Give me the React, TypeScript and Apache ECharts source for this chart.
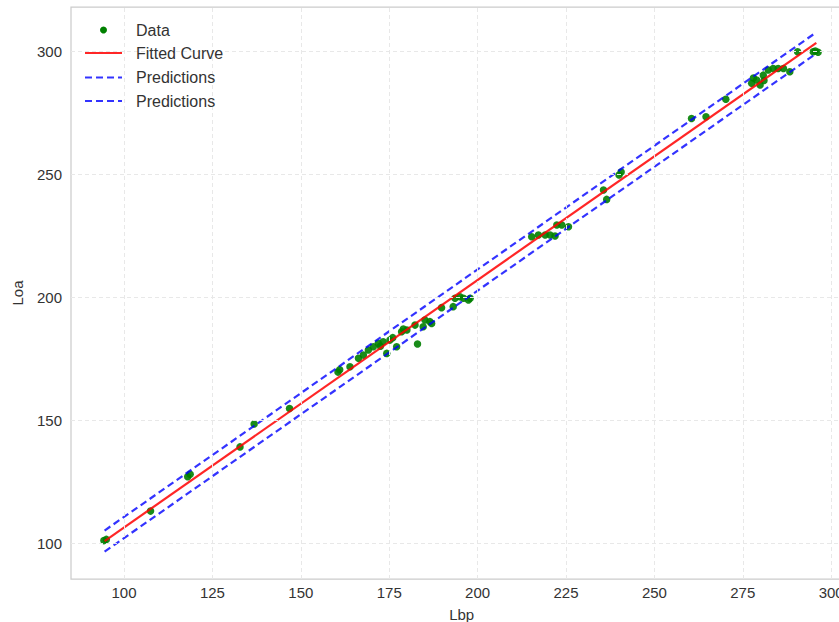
import React, { useEffect, useRef } from "react";
import * as echarts from "echarts";

const lbp = [94.3, 95.0, 107.5, 118.0, 118.7, 132.8, 136.8, 146.8, 160.5, 161.0, 163.9, 166.3, 167.7, 169.1, 170.5, 171.9, 172.5, 173.3, 174.3, 175.2, 176.0, 177.1, 178.5, 179.0, 180.0, 182.3, 183.0, 184.6, 185.1, 186.5, 187.0, 189.8, 193.1, 193.6, 195.0, 196.0, 197.4, 197.9, 215.3, 217.2, 219.1, 220.5, 221.9, 222.4, 223.8, 225.7, 235.6, 236.5, 240.0, 240.6, 260.5, 264.6, 270.2, 277.5, 278.0, 278.9, 279.9, 280.8, 281.0, 282.2, 283.6, 285.0, 286.5, 288.3, 290.5, 294.9, 295.5, 296.3];
const loa = [101.0, 101.5, 113.0, 127.0, 128.0, 139.1, 148.4, 154.7, 169.5, 170.5, 171.7, 175.1, 176.4, 178.5, 179.8, 181.2, 180.0, 181.8, 177.1, 182.5, 183.5, 179.8, 185.9, 187.0, 186.6, 188.6, 180.9, 187.9, 190.7, 190.0, 189.3, 195.7, 196.1, 199.5, 200.1, 199.5, 198.8, 199.5, 224.5, 225.2, 225.2, 225.2, 224.8, 229.3, 229.3, 228.6, 243.5, 239.7, 249.6, 250.8, 272.6, 273.3, 280.4, 286.9, 289.0, 288.2, 286.2, 290.2, 288.0, 292.3, 292.9, 292.9, 292.9, 291.6, 299.7, 299.7, 300.0, 299.5];

const fitLbp = [94.5, 295.8];
const fitLoa = [100.8, 303.3];
const upperLoa = [105.1, 307.6];
const lowerLoa = [96.5, 299.0];

const xTicks = [100, 125, 150, 175, 200, 225, 250, 275, 300];
const yTicks = [100, 150, 200, 250, 300];

const legendNames = ["Data", "Fitted Curve", "Predictions", "Predictions"];

const FONT = "'Liberation Sans', Arial, sans-serif";

export default function App() {
  const ref = useRef<HTMLDivElement>(null);
  useEffect(() => {
    if (!ref.current) return;
    const chart = echarts.init(ref.current, undefined, { renderer: "svg" });
    const pts = lbp.map((x, i) => [x, loa[i]]);
    const fit = fitLbp.map((x, i) => [x, fitLoa[i]]);
    const up = fitLbp.map((x, i) => [x, upperLoa[i]]);
    const lo = fitLbp.map((x, i) => [x, lowerLoa[i]]);
    const legendY = [30, 53, 77.5, 101];
    const labelStyle = { fontFamily: FONT, fontSize: 15, color: "#333333" };
    chart.setOption({
      animation: false,
      backgroundColor: "#ffffff",
      grid: {
        left: 71, top: 7, width: 781.4, height: 572,
        outerBoundsMode: "none",
        show: true, borderColor: "#cccccc", borderWidth: 1.25, containLabel: false,
      },
      xAxis: {
        type: "value",
        min: 85,
        max: 306,
        name: "Lbp",
        nameLocation: "middle",
        nameGap: 28,
        nameTextStyle: labelStyle,
        axisLine: { show: false },
        axisTick: { show: false },
        splitLine: { show: false },
        axisLabel: { ...labelStyle, margin: 6, customValues: xTicks, formatter: (v: number) => String(v) },
      },
      yAxis: {
        type: "value",
        min: 85.4,
        max: 317.9,
        name: "Loa",
        nameLocation: "middle",
        nameGap: 46,
        nameTextStyle: labelStyle,
        axisLine: { show: false },
        axisTick: { show: false },
        splitLine: { show: false },
        axisLabel: { ...labelStyle, margin: 9, customValues: yTicks, formatter: (v: number) => String(v) },
      },
      series: [
        {
          name: "gridlines",
          type: "scatter",
          data: [],
          silent: true,
          z: 1,
          markLine: {
            silent: true,
            symbol: ["none", "none"],
            label: { show: false },
            lineStyle: { color: "#e8e8e8", width: 1, type: [4, 3] },
            emphasis: { disabled: true },
            data: [
              ...xTicks.map((v) => ({ xAxis: v })),
              ...yTicks.map((v) => ({ yAxis: v })),
            ],
          },
        },
        { name: "Data", type: "scatter", data: pts, symbolSize: 7.5, itemStyle: { color: "#008000", opacity: 0.9 }, z: 2 },
        { name: "Fitted Curve", type: "line", data: fit, showSymbol: false, lineStyle: { color: "#ff0000", width: 2.2, opacity: 0.85 }, z: 3 },
        { name: "Predictions", type: "line", data: up, showSymbol: false, lineStyle: { color: "#0000ff", width: 2.2, opacity: 0.8, type: [7, 4] }, z: 3 },
        { name: "Predictions ", type: "line", data: lo, showSymbol: false, lineStyle: { color: "#0000ff", width: 2.2, opacity: 0.8, type: [7, 4] }, z: 3 },
      ],
      graphic: [
        { type: "circle", shape: { cx: 103.5, cy: legendY[0], r: 3.5 }, style: { fill: "#008000" }, z: 10 },
        { type: "line", shape: { x1: 85, y1: legendY[1], x2: 122, y2: legendY[1] }, style: { stroke: "#ff0000", lineWidth: 2.2, opacity: 0.85 }, z: 10 },
        { type: "line", shape: { x1: 85, y1: legendY[2], x2: 122, y2: legendY[2] }, style: { stroke: "#0000ff", lineWidth: 2.2, opacity: 0.8, lineDash: [7, 4] }, z: 10 },
        { type: "line", shape: { x1: 85, y1: legendY[3], x2: 122, y2: legendY[3] }, style: { stroke: "#0000ff", lineWidth: 2.2, opacity: 0.8, lineDash: [7, 4] }, z: 10 },
        ...legendNames.map((n, i) => ({
          type: "text", x: 136, y: legendY[i], z: 10,
          style: { text: n, fontFamily: FONT, fontSize: 16, fill: "#333333", verticalAlign: "middle", textVerticalAlign: "middle" },
        })),
      ],
    });
    return () => chart.dispose();
  }, []);
  return <div ref={ref} style={{ width: 839, height: 622, position: "absolute", left: 0, top: 0 }} />;
}
